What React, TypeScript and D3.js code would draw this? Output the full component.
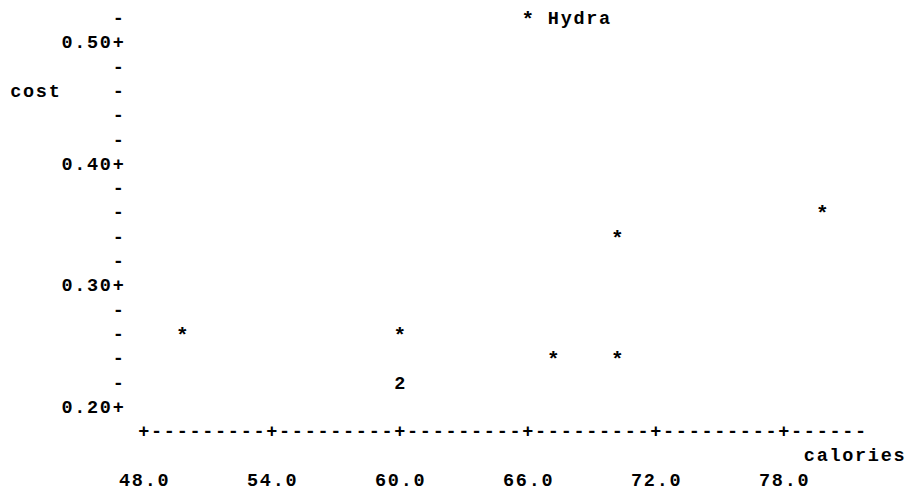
import React from 'react';
import * as d3 from 'd3';

// line-printer style scatter of cost vs calories
const calories = [49.8, 60.0, 60.0, 60.0, 67.2, 70.2, 70.2, 79.8, 66.0];
const cost = [0.26, 0.26, 0.22, 0.22, 0.24, 0.24, 0.34, 0.36, 0.52];
const names = ['', '', '', '', '', '', '', '', 'Hydra'];

const xTicks = [48, 54, 60, 66, 72, 78];
const xTickLabels = ['48.0', '54.0', '60.0', '66.0', '72.0', '78.0'];
const yTicks = [0.2, 0.3, 0.4, 0.5];
const yTickLabels = ['0.20', '0.30', '0.40', '0.50'];
const xLabel = 'calories';
const yLabel = 'cost';

const W = 910;
const H = 491;
const CW = 12.8; // character cell width
const RH = 24.3; // character row height
const X0 = 15.8; // centre of column 0
const Y0 = 18; // centre of row 0
const FS = 18.5;
const BASE = 6; // baseline offset from row centre

const colX = (c: number) => X0 + c * CW;
const rowY = (r: number) => Y0 + r * RH;

const x = d3.scaleLinear().domain([48, 78]).range([colX(10), colX(60)]);
const y = d3.scaleLinear().domain([0.2, 0.5]).range([rowY(16), rowY(1)]);

const toCol = (v: number) => Math.round((x(v) - X0) / CW);
const toRow = (v: number) => Math.round((y(v) - Y0) / RH);

// chars placed one per cell, centred on cx
function Chars({ s, cx, cy }: { s: string; cx: number; cy: number }) {
  const xs = s.split('').map((_, i) => cx + (i - (s.length - 1) / 2) * CW);
  return (
    <text x={xs.join(' ')} y={cy + BASE} textAnchor="middle">
      {s}
    </text>
  );
}

function Star({ cx, cy }: { cx: number; cy: number }) {
  return (
    <text x={cx} y={cy + BASE + 2} textAnchor="middle" fontSize={21}>
      *
    </text>
  );
}

export default function App() {
  const axisCol = 8;
  const topRow = toRow(0.52);
  const bottomRow = toRow(0.2);
  const majorRows = yTicks.map(toRow);

  // y axis marks
  const yMarks: JSX.Element[] = [];
  for (let r = topRow; r <= bottomRow; r++) {
    const major = majorRows.indexOf(r);
    yMarks.push(<Chars key={'ym' + r} s={major >= 0 ? '+' : '-'} cx={colX(axisCol)} cy={rowY(r)} />);
    if (major >= 0) {
      const lab = yTickLabels[major];
      yMarks.push(
        <Chars key={'yl' + r} s={lab} cx={colX(axisCol - lab.length + (lab.length - 1) / 2)} cy={rowY(r)} />
      );
    }
  }

  // x axis line
  const startCol = toCol(48);
  const endCol = startCol + 56;
  const tickCols = xTicks.map(toCol);
  let axisStr = '';
  for (let c = startCol; c <= endCol; c++) axisStr += tickCols.includes(c) ? '+' : '-';
  const axisRow = bottomRow + 1;

  // count points per cell
  const cells = d3.rollup(
    calories.map((c, i) => ({ col: toCol(c), row: toRow(cost[i]), name: names[i] })),
    (v) => ({ n: v.length, name: v.map((d) => d.name).find((s) => s) || '' }),
    (d) => `${d.col},${d.row}`
  );

  const marks: JSX.Element[] = [];
  cells.forEach((v, key) => {
    const [c, r] = key.split(',').map(Number);
    if (v.n > 1) marks.push(<Chars key={'p' + key} s={String(v.n)} cx={colX(c)} cy={rowY(r)} />);
    else marks.push(<Star key={'p' + key} cx={colX(c)} cy={rowY(r)} />);
    if (v.name) {
      const s = v.name;
      marks.push(<Chars key={'n' + key} s={s} cx={colX(c + 2 + (s.length - 1) / 2)} cy={rowY(r)} />);
    }
  });

  return (
    <svg
      width={W}
      height={H}
      style={{ position: 'absolute', left: 0, top: 0, background: '#fff' }}
      fontFamily="'Liberation Mono', 'DejaVu Sans Mono', monospace"
      fontWeight="bold"
      fontSize={FS}
      fill="#000"
    >
      <Chars s={yLabel} cx={colX((yLabel.length - 1) / 2)} cy={rowY(3)} />
      {yMarks}
      <Chars s={axisStr} cx={colX(startCol + (axisStr.length - 1) / 2)} cy={rowY(axisRow)} />
      <Chars s={xLabel} cx={colX(69 - (xLabel.length - 1) / 2)} cy={rowY(axisRow + 1)} />
      {xTicks.map((t, i) => (
        <Chars key={'xt' + i} s={xTickLabels[i]} cx={x(t)} cy={rowY(axisRow + 2)} />
      ))}
      {marks}
    </svg>
  );
}
